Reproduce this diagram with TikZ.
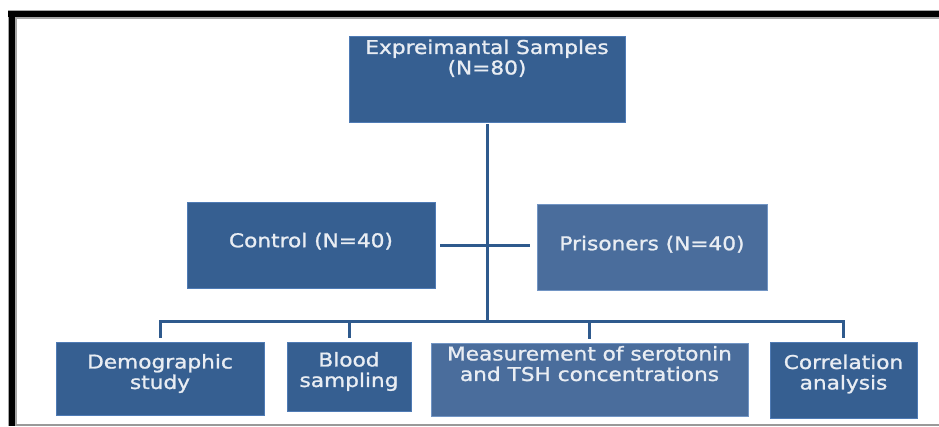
\documentclass[tikz,border=0pt]{standalone}
\usepackage{fontspec}
\setmainfont{DejaVu Sans}[FakeStretch=1.14, FakeBold=1.2]
\usetikzlibrary{calc, positioning}
\definecolor{DBox}{HTML}{365F91}
\definecolor{LBox}{HTML}{4A6D9C}
\definecolor{BoxEdge}{HTML}{4F7BB5}
\definecolor{Link}{HTML}{2F5A8D}
\definecolor{BoxText}{HTML}{E9EDF3}

\begin{document}
\begin{tikzpicture}[x=1pt, y=-1pt,
    box/.style={rectangle, fill=DBox, draw=BoxEdge, line width=0.8pt, text=BoxText,
        font=\fontsize{19}{20.5}\selectfont, align=center, inner sep=0pt},
    lightbox/.style={box, fill=LBox, draw=BoxEdge!80!white},
    link/.style={Link, line width=3pt}]
\useasboundingbox (0,0) rectangle (939,426);

% frame
\draw[gray!70, line width=9pt] (8,14) -- (939,14);
\draw[gray!70, line width=9pt] (12,10) -- (12,426);
\draw[black, line width=6pt] (8,14) -- (939,14);
\draw[black, line width=6pt] (12,11) -- (12,426);
\draw[gray!80, line width=1.5pt] (16,425) -- (939,425);

\node[box, minimum width=276pt, minimum height=86pt, text depth=44pt] (samples) at (487,79)
    {Expreimantal Samples\\(N=80)};
\node[box, minimum width=248pt, minimum height=86pt, text depth=10pt] (control) at (311,245)
    {Control (N=40)};
\node[lightbox, minimum width=230pt, minimum height=86pt, text depth=8pt] (prisoners) at (652,247)
    {Prisoners (N=40)};

\node[box, minimum width=208pt, minimum height=73pt, text depth=14pt] (demo) at (160,378.5)
    {Demographic\\study};
\node[box, minimum width=124pt, minimum height=69pt, text depth=14pt] (blood) at (349,376.5)
    {Blood\\sampling};
\node[lightbox, minimum width=317pt, minimum height=73pt, text depth=32pt] (measure) at (589.5,379.5)
    {Measurement of serotonin\\and TSH concentrations};
\node[box, minimum width=147pt, minimum height=76pt, text depth=16pt] (corr) at (843.5,380)
    {Correlation\\analysis};

\coordinate (hub) at (samples.south |- 0,321);
\draw[link, shorten <=2pt] (samples.south) -- (hub);
\draw[link, shorten <=5pt, shorten >=7pt] (control.east) -- (control.east -| prisoners.west);
\draw[link, shorten >=4pt] (hub) -| (demo.north);
\draw[link, shorten >=4pt] (hub) -| (blood.north);
\draw[link, shorten >=4pt] (hub) -| (measure.north);
\draw[link, shorten >=4pt] (hub) -| (corr.north);

\end{tikzpicture}
\end{document}
